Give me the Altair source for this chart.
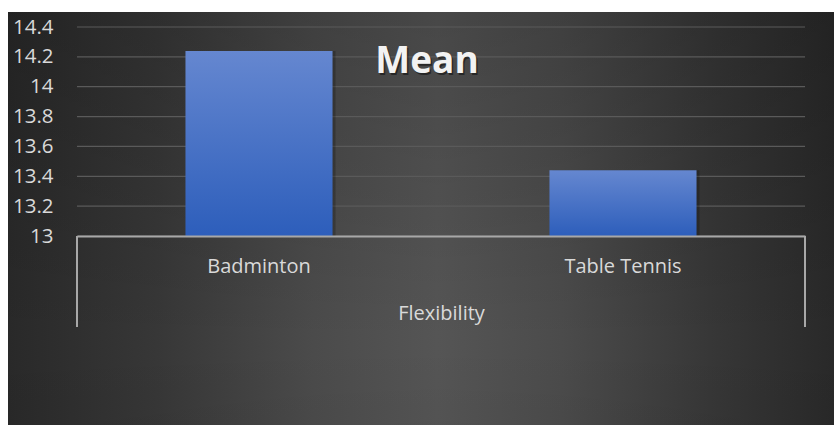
import altair as alt
import pandas as pd

categories = ["Badminton", "Table Tennis"]
means = [14.24, 13.44]
y_ticks = [13, 13.2, 13.4, 13.6, 13.8, 14, 14.2, 14.4]
group_label = "Flexibility"
title_text = "Mean"

W, H = 728, 209
FONT = "Open Sans"

df = pd.DataFrame({"sport": categories, "mean": means})
grid_df = pd.DataFrame({"mean": y_ticks})
one = pd.DataFrame({"t": [title_text]})

BGX = dict(x=alt.value(-69), x2=alt.value(757), y=alt.value(-15), y2=alt.value(398))

bg = alt.Chart(one).mark_rect(
    color=alt.LinearGradient(
        gradient="linear",
        stops=[alt.GradientStop(color="#292929", offset=0),
               alt.GradientStop(color="#373737", offset=0.18),
               alt.GradientStop(color="#4b4b4b", offset=0.37),
               alt.GradientStop(color="#555555", offset=0.52),
               alt.GradientStop(color="#4b4b4b", offset=0.67),
               alt.GradientStop(color="#373737", offset=0.85),
               alt.GradientStop(color="#292929", offset=1)],
        x1=0, x2=1, y1=0, y2=0),
).encode(**BGX)

bg_shade = alt.Chart(one).mark_rect(
    color=alt.LinearGradient(
        gradient="linear",
        stops=[alt.GradientStop(color="rgba(0,0,0,0.16)", offset=0),
               alt.GradientStop(color="rgba(0,0,0,0.0)", offset=0.8),
               alt.GradientStop(color="rgba(0,0,0,0.03)", offset=1)],
        x1=0, x2=0, y1=0, y2=1),
).encode(**BGX)

xscale = alt.Scale(domain=categories, paddingInner=0.596, paddingOuter=0.298)
yscale = alt.Scale(domain=[13, 14.4], nice=False, zero=False)

xaxis = alt.Axis(title=group_label, labelAngle=0, ticks=False, domain=True,
                 domainColor="#a8a8a8", domainWidth=2, zindex=1, grid=False,
                 labelColor="#d9d9d9", labelFont=FONT, labelFontSize=20,
                 labelPadding=20, titleColor="#d9d9d9", titleFont=FONT,
                 titleFontSize=20, titleFontWeight="normal", titlePadding=27)
yaxis = alt.Axis(title=None, values=y_ticks, format="~g", ticks=False, domain=False,
                 grid=False, zindex=1,
                 labelColor="#d9d9d9", labelFont=FONT, labelFontSize=20.5,
                 labelPadding=24)

grid = alt.Chart(grid_df).mark_rule(color="#5a5a5a", strokeWidth=1.2).encode(
    y=alt.Y("mean:Q", scale=yscale, axis=yaxis),
    x=alt.value(0), x2=alt.value(W))

bar_shadow = alt.Chart(df).mark_bar(color="#000000", opacity=0.22, xOffset=3, x2Offset=3).encode(
    x=alt.X("sport:N", scale=xscale, sort=categories, axis=xaxis),
    y=alt.Y("mean:Q", scale=yscale, axis=yaxis),
    y2=alt.datum(13),
)

bars = alt.Chart(df).mark_bar(
    color=alt.LinearGradient(
        gradient="linear",
        stops=[alt.GradientStop(color="#6587d0", offset=0),
               alt.GradientStop(color="#2d5ebb", offset=1)],
        x1=0, x2=0, y1=0, y2=1),
).encode(
    x=alt.X("sport:N", scale=xscale, sort=categories, axis=xaxis),
    y=alt.Y("mean:Q", scale=yscale, axis=yaxis),
    y2=alt.datum(13),
)

side_l = alt.Chart(one).mark_rule(color="#a8a8a8", strokeWidth=2).encode(
    x=alt.value(0), y=alt.value(H), y2=alt.value(H + 91))
side_r = alt.Chart(one).mark_rule(color="#a8a8a8", strokeWidth=2).encode(
    x=alt.value(W), y=alt.value(H), y2=alt.value(H + 91))

tshadow = alt.Chart(one).mark_text(font=FONT, fontSize=37, fontWeight="bold", color="#000000",
                                   opacity=0.45, dx=1.5, dy=1.5).encode(
    x=alt.value(350), y=alt.value(35), text="t:N")
title = alt.Chart(one).mark_text(font=FONT, fontSize=37, fontWeight="bold", color="#f2f2f2").encode(
    x=alt.value(350), y=alt.value(35), text="t:N")

chart = alt.layer(bg, bg_shade, grid, bar_shadow, bars, side_l, side_r, tshadow, title).properties(
    width=W, height=H,
    autosize=alt.AutoSizeParams(type="none"),
    padding={"left": 77, "top": 27, "right": 29, "bottom": 189},
    background="#ffffff",
).configure_view(stroke=None)

chart.save("out.html", embed_options={"renderer": "svg", "actions": False})
